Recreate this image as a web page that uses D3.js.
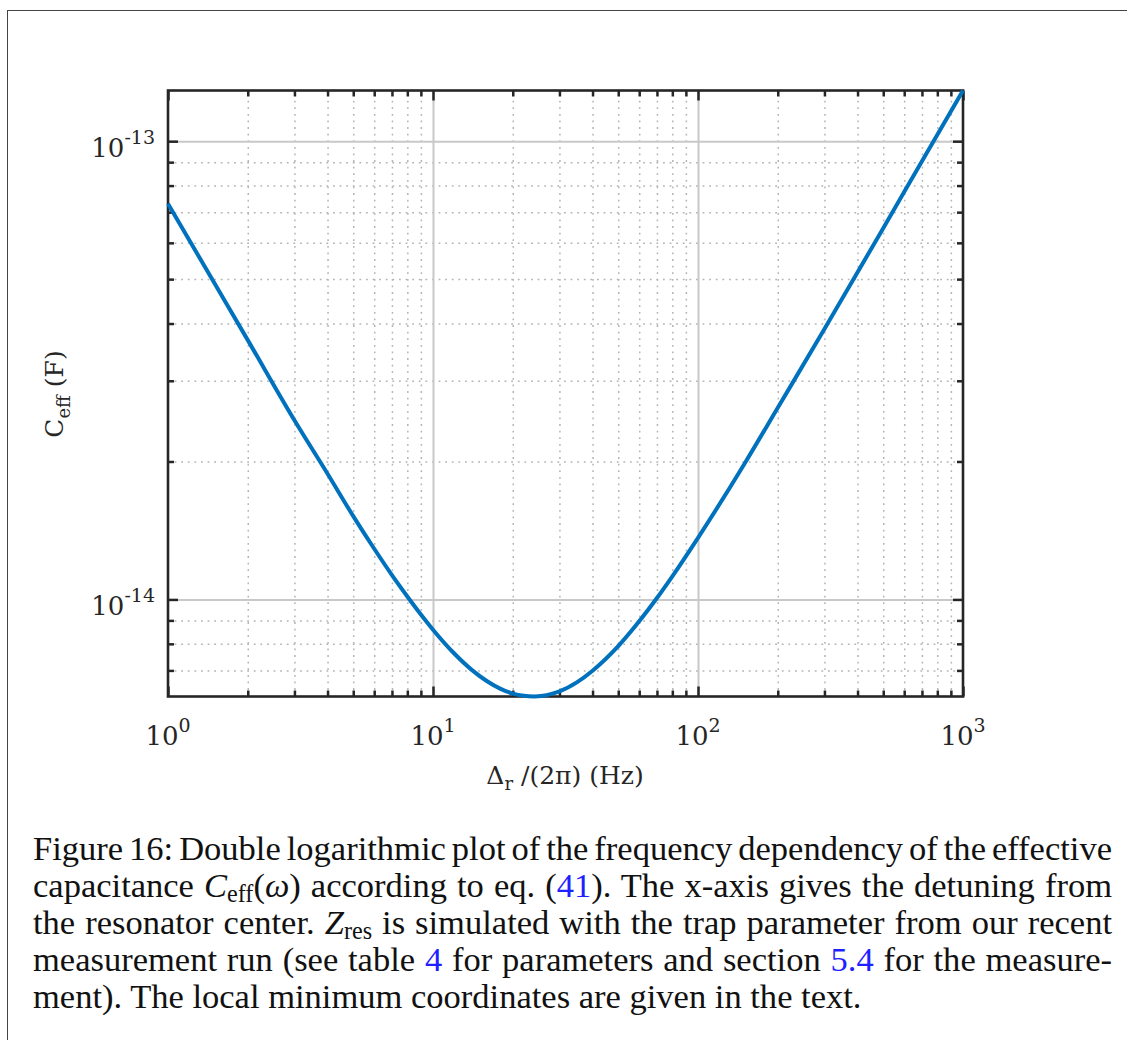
<!DOCTYPE html>
<html><head><meta charset="utf-8">
<script src="https://cdn.jsdelivr.net/npm/d3@7"></script>
<style>body{margin:0;background:#fff} svg{display:block}</style>
</head><body>
<svg id="c" width="1127" height="1040"></svg>
<script>
// ---- data ----
const freqHz = [1, 1.5, 2, 3, 4, 5, 6, 7, 8, 9, 10, 12, 14, 16, 18, 20, 22, 24, 26, 28, 30, 35, 40, 50, 60, 70, 80, 100, 150, 200, 300, 500, 700, 1000];
const ceffF  = [7.3e-14, 4.89e-14, 3.68e-14, 2.46e-14, 1.88e-14, 1.52e-14, 1.29e-14, 1.13e-14, 1.015e-14, 9.27e-15, 8.59e-15, 7.63e-15, 7.02e-15, 6.63e-15, 6.38e-15, 6.23e-15, 6.16e-15, 6.14e-15, 6.16e-15, 6.22e-15, 6.30e-15, 6.60e-15, 6.99e-15, 7.91e-15, 8.96e-15, 1.007e-14, 1.123e-14, 1.363e-14, 1.98e-14, 2.62e-14, 3.89e-14, 6.46e-14, 9.04e-14, 1.29e-13];
const xLimits = [1, 1000];
const yLimits = [6.14e-15, 1.29e-13];
const xMajorTicks = [1, 10, 100, 1000];
const xTickExponents = ["0", "1", "2", "3"];
const yMajorTicks = [1e-14, 1e-13];
const yTickExponents = ["-14", "-13"];
const captionLines = [
  [["n","Figure 16: Double logarithmic plot of the frequency dependency of the effective"]],
  [["n","capacitance "],["i","C"],["s","eff"],["n","("],["i","ω"],["n",") according to eq. ("],["b","41"],["n","). The x-axis gives the detuning from"]],
  [["n","the resonator center. "],["i","Z"],["s","res"],["n"," is simulated with the trap parameter from our recent"]],
  [["n","measurement run (see table "],["b","4"],["n"," for parameters and section "],["b","5.4"],["n"," for the measure-"]],
  [["n","ment). The local minimum coordinates are given in the text."]]
];

// ---- layout ----
const L = 168, R = 963, T = 90.5, B = 696.5;
const svg = d3.select("#c");
const x = d3.scaleLog().domain(xLimits).range([L, R]);
const y = d3.scaleLog().domain(yLimits).range([B, T]);
const axisCol = "#262626";
const tickFont = "'DejaVu Serif', serif";

// frame around figure
svg.append("line").attr("x1",7.5).attr("x2",1127).attr("y1",10.5).attr("y2",10.5).attr("stroke","#444").attr("stroke-width",1);
svg.append("line").attr("x1",7.5).attr("x2",7.5).attr("y1",10).attr("y2",1040).attr("stroke","#444").attr("stroke-width",1);

const xMinor = x.ticks().filter(v => !xMajorTicks.includes(v) && v > xLimits[0] && v < xLimits[1]);
const yMinor = y.ticks().filter(v => !yMajorTicks.some(m => Math.abs(m - v) / m < 1e-6));

function styleGrid(g, dotted) {
  g.select(".domain").remove();
  g.selectAll(".tick line")
    .attr("stroke", dotted ? "#b4b4b4" : "#c8c8c8")
    .attr("stroke-width", dotted ? 1.5 : 2)
    .attr("stroke-dasharray", dotted ? "1.8,4.8" : null);
}
// minor grid
svg.append("g").attr("transform",`translate(0,${B})`)
  .call(d3.axisBottom(x).tickValues(xMinor).tickSize(-(B-T)).tickFormat(""))
  .call(g => styleGrid(g, true));
svg.append("g").attr("transform",`translate(${L},0)`)
  .call(d3.axisLeft(y).tickValues(yMinor).tickSize(-(R-L)).tickFormat(""))
  .call(g => styleGrid(g, true));
// major grid
svg.append("g").attr("transform",`translate(0,${B})`)
  .call(d3.axisBottom(x).tickValues(xMajorTicks.slice(1,-1)).tickSize(-(B-T)).tickFormat(""))
  .call(g => styleGrid(g, false));
svg.append("g").attr("transform",`translate(${L},0)`)
  .call(d3.axisLeft(y).tickValues(yMajorTicks).tickSize(-(R-L)).tickFormat(""))
  .call(g => styleGrid(g, false));

// ticks on all four sides
function styleTicks(g) {
  g.select(".domain").remove();
  g.selectAll(".tick line").attr("stroke", axisCol).attr("stroke-width", 2.5);
}
const sides = [
  [d3.axisBottom, x, `translate(0,${B})`],
  [d3.axisTop, x, `translate(0,${T})`],
  [d3.axisLeft, y, `translate(${L},0)`],
  [d3.axisRight, y, `translate(${R},0)`]
];
sides.forEach(([ax, sc, tr]) => {
  const major = sc === x ? xMajorTicks : yMajorTicks;
  const minor = sc === x ? xMinor : yMinor;
  svg.append("g").attr("transform", tr).call(ax(sc).tickValues(minor).tickSize(-6).tickFormat("")).call(styleTicks);
  svg.append("g").attr("transform", tr).call(ax(sc).tickValues(major).tickSize(-10).tickFormat("")).call(styleTicks);
});

// box
svg.append("rect").attr("x",L).attr("y",T).attr("width",R-L).attr("height",B-T)
  .attr("fill","none").attr("stroke",axisCol).attr("stroke-width",2.6);

// curve
const pts = freqHz.map((f,i) => [f, ceffF[i]]);
svg.append("path").datum(pts)
  .attr("d", d3.line().x(d => x(d[0])).y(d => y(d[1])).curve(d3.curveMonotoneX))
  .attr("fill","none").attr("stroke","#0072BD").attr("stroke-width",4).attr("stroke-linejoin","round");

// tick labels
const xl = svg.append("g").selectAll("text").data(xMajorTicks).join("text")
  .attr("x", d => x(d)).attr("y", 745).attr("text-anchor","middle")
  .attr("font-family", tickFont).attr("font-size", 26).attr("fill", "#262626");
xl.append("tspan").text("10");
xl.append("tspan").attr("font-size",19).attr("dy",-13).text((d,i) => xTickExponents[i]);

const yl = svg.append("g").selectAll("text").data(yMajorTicks).join("text")
  .attr("x", 155).attr("y", d => y(d) + 15.5).attr("text-anchor","end")
  .attr("font-family", tickFont).attr("font-size", 26).attr("fill", "#262626");
yl.append("tspan").text("10");
yl.append("tspan").attr("font-size",19).attr("dy",-13).text((d,i) => yTickExponents[i]);

// axis labels
const xlab = svg.append("text").attr("x", 565).attr("y", 784).attr("text-anchor","middle")
  .attr("font-family", tickFont).attr("font-size", 25).attr("fill","#262626");
xlab.append("tspan").text("Δ");
xlab.append("tspan").attr("font-size",18).attr("dy",6).text("r");
xlab.append("tspan").attr("dy",-6).text(" /(2π) (Hz)");

const ylab = svg.append("text").attr("transform","translate(63,394) rotate(-90)").attr("text-anchor","middle")
  .attr("font-family", tickFont).attr("font-size", 25).attr("fill","#262626");
ylab.append("tspan").text("C");
ylab.append("tspan").attr("font-size",18).attr("dy",7).text("eff");
ylab.append("tspan").attr("dy",-7).text(" (F)");

// caption
const capFont = "'Liberation Serif', 'Times New Roman', serif";
const capX = 33, capW = 1079, lastW = 829;
const baselines = [860, 897, 934, 971, 1008];
let fs = 30;
const capTexts = captionLines.map((segs, li) => {
  const t = svg.append("text").attr("x", capX).attr("y", baselines[li])
    .attr("font-family", capFont).attr("fill","#111");
  let shift = 0;
  segs.forEach(([k, s]) => {
    const sp = t.append("tspan").text(s);
    const target = k === "s" ? 5 : 0;
    if (target !== shift) { sp.attr("dy", target - shift); shift = target; }
    if (k === "i") sp.attr("font-style","italic");
    if (k === "s") sp.attr("class","sub");
    if (k === "b") sp.attr("fill","#1f1fff");
  });
  return t;
});
function setSize(f) {
  capTexts.forEach(t => { t.attr("font-size", f); t.selectAll(".sub").attr("font-size", f*0.7); });
}
setSize(fs);
const w5 = capTexts[4].node().getComputedTextLength();
fs = fs * lastW / w5;
setSize(fs);
capTexts.forEach((t, i) => {
  if (i === 4) return;
  const w = t.node().getComputedTextLength();
  const nSp = (t.text().match(/ /g) || []).length;
  t.style("word-spacing", ((capW - w) / nSp) + "px");
});
</script>
</body></html>
